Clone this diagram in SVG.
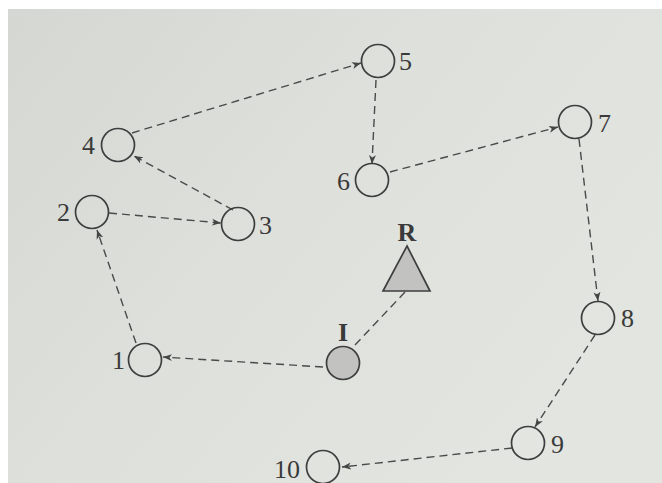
<svg xmlns="http://www.w3.org/2000/svg" width="662" height="483" viewBox="0 0 662 483">
<defs>
<linearGradient id="bg" x1="0" y1="0" x2="1" y2="0.6">
<stop offset="0" stop-color="#d4d7d2"/>
<stop offset="0.5" stop-color="#dee0db"/>
<stop offset="1" stop-color="#e3e5e0"/>
</linearGradient>
<marker id="arr" markerUnits="userSpaceOnUse" markerWidth="12" markerHeight="10" refX="9" refY="4" orient="auto">
<path d="M0,0.5 L9,4 L0,7.5 L2.5,4 z" fill="#444"/>
</marker>
<style>
.node{fill:none;stroke:#3e3e3e;stroke-width:1.7}
.lbl{font-family:"Liberation Serif",serif;font-size:26px;fill:#3a3a3a}
.blbl{font-family:"Liberation Serif",serif;font-size:26px;font-weight:bold;fill:#3a3a3a}
.edge{fill:none;stroke:#4a4a4a;stroke-width:1.4;stroke-dasharray:8 5}
.shade{fill:#c2c3c0;stroke:#3e3e3e;stroke-width:1.7}
</style>
</defs>
<rect x="0" y="0" width="662" height="483" fill="#ffffff"/>
<rect x="8" y="9" width="654" height="474" fill="url(#bg)"/>
<g id="connectors">
<line class="edge" x1="323" y1="367" x2="163" y2="357" marker-end="url(#arr)"/>
<line class="edge" x1="355" y1="345" x2="405" y2="292"/>
<line class="edge" x1="136" y1="343" x2="97" y2="230" marker-end="url(#arr)"/>
<line class="edge" x1="109" y1="213" x2="221" y2="223" marker-end="url(#arr)"/>
<line class="edge" x1="233" y1="210" x2="134" y2="156" marker-end="url(#arr)"/>
<line class="edge" x1="132" y1="133" x2="361" y2="63" marker-end="url(#arr)"/>
<line class="edge" x1="376" y1="80" x2="372" y2="164" marker-end="url(#arr)"/>
<line class="edge" x1="390" y1="172" x2="558" y2="127" marker-end="url(#arr)"/>
<line class="edge" x1="579" y1="139" x2="598" y2="301" marker-end="url(#arr)"/>
<line class="edge" x1="595" y1="335" x2="535" y2="427" marker-end="url(#arr)"/>
<line class="edge" x1="512" y1="448" x2="342" y2="467" marker-end="url(#arr)"/>
</g>
<g id="n1"><circle class="node" cx="145" cy="360" r="16.5"/><text class="lbl" x="112" y="369">1</text></g>
<g id="n2"><circle class="node" cx="92" cy="212" r="16.5"/><text class="lbl" x="57" y="221">2</text></g>
<g id="n3"><circle class="node" cx="238" cy="224" r="16.5"/><text class="lbl" x="259" y="234">3</text></g>
<g id="n4"><circle class="node" cx="118" cy="145" r="16.5"/><text class="lbl" x="82" y="154">4</text></g>
<g id="n5"><circle class="node" cx="378" cy="61" r="16.5"/><text class="lbl" x="399" y="70">5</text></g>
<g id="n6"><circle class="node" cx="372" cy="180" r="16.5"/><text class="lbl" x="337" y="190">6</text></g>
<g id="n7"><circle class="node" cx="575" cy="122" r="16.5"/><text class="lbl" x="598" y="132">7</text></g>
<g id="n8"><circle class="node" cx="598" cy="318" r="16.5"/><text class="lbl" x="621" y="327">8</text></g>
<g id="n9"><circle class="node" cx="528" cy="443" r="16.5"/><text class="lbl" x="551" y="453">9</text></g>
<g id="n10"><circle class="node" cx="323" cy="467" r="16.5"/><text class="lbl" x="274" y="478">10</text></g>
<g id="nI"><circle class="shade" cx="343" cy="363" r="16.5"/><text class="blbl" x="343" y="341" text-anchor="middle">I</text></g>
<g id="nR"><polygon class="shade" points="407,246 430,291 383,291"/><text class="blbl" x="407" y="241" text-anchor="middle">R</text></g>
</svg>
